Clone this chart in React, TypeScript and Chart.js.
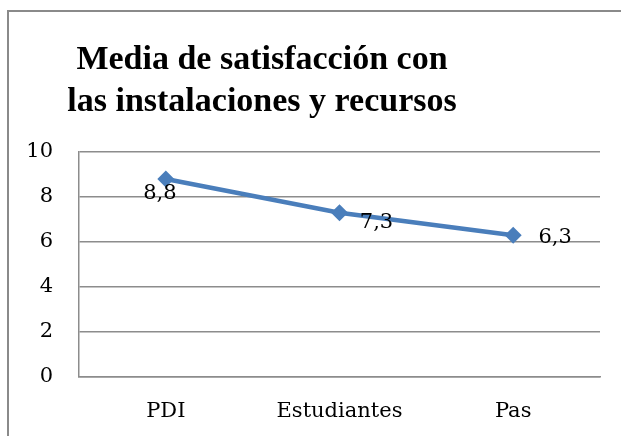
import React, { useEffect, useRef } from "react";
import { Chart, registerables } from "chart.js";

Chart.register(...registerables);

const categories = ["PDI", "Estudiantes", "Pas"];
const values = [8.8, 7.3, 6.3];
const valueLabels = ["8,8", "7,3", "6,3"];
const yTicks = [0, 2, 4, 6, 8, 10];
const titleLines = ["Media de satisfacción con", "las instalaciones y recursos"];

const SERIF = "'DejaVu Serif', 'Liberation Serif', serif";
const LINE_COLOR = "#4A7EBB";
const GRID = "#8C8C8C";

// label placement relative to each point (Excel-like placement)
const labelOffsets = [
  { dx: -6, dy: 15 },
  { dx: 37, dy: 10 },
  { dx: 42, dy: 2 },
];

const dataLabelPlugin = {
  id: "dataLabels",
  afterDatasetsDraw(chart: any) {
    const ctx = chart.ctx;
    const meta = chart.getDatasetMeta(0);
    ctx.save();
    ctx.font = `21px ${SERIF}`;
    ctx.fillStyle = "#000";
    ctx.textAlign = "center";
    ctx.textBaseline = "middle";
    meta.data.forEach((pt: any, i: number) => {
      const o = labelOffsets[i];
      ctx.fillText(valueLabels[i], pt.x + o.dx, pt.y + o.dy);
    });
    ctx.restore();
  },
};

export default function App() {
  const ref = useRef<HTMLCanvasElement>(null);
  useEffect(() => {
    if (!ref.current) return;
    const chart = new Chart(ref.current, {
      type: "line",
      data: {
        labels: categories,
        datasets: [
          {
            data: values,
            borderColor: LINE_COLOR,
            backgroundColor: LINE_COLOR,
            borderWidth: 4.5,
            pointStyle: "rectRot",
            pointRadius: 8.5,
            pointBorderWidth: 0,
            pointBackgroundColor: LINE_COLOR,
            tension: 0,
          },
        ],
      },
      options: {
        animation: false,
        responsive: true,
        maintainAspectRatio: false,
        layout: { padding: { top: 152, left: 0, right: 21, bottom: 0 } },
        plugins: {
          legend: { display: false },
          title: { display: false },
          tooltip: { enabled: false },
        },
        scales: {
          x: {
            offset: true,
            grid: { display: false, drawTicks: false },
            border: { display: true, color: GRID, width: 1.5 },
            ticks: {
              font: { family: SERIF, size: 21 },
              color: "#000",
              padding: 22,
            },
            afterFit(axis: any) {
              axis.height = 59;
            },
          },
          y: {
            min: 0,
            max: 10,
            afterBuildTicks(axis: any) {
              axis.ticks = yTicks.map((v) => ({ value: v }));
            },
            grid: { color: GRID, lineWidth: 1.5, drawTicks: false },
            border: { display: true, color: GRID, width: 1.5 },
            ticks: {
              font: { family: SERIF, size: 21 },
              color: "#000",
              padding: 26,
            },
            afterFit(axis: any) {
              axis.width = 79;
            },
          },
        },
      },
      plugins: [dataLabelPlugin],
    });
    return () => chart.destroy();
  }, []);

  return (
    <div
      style={{
        position: "fixed",
        left: 0,
        top: 0,
        width: 621,
        height: 436,
        background: "#fff",
        overflow: "hidden",
      }}
    >
      <div
        style={{
          position: "absolute",
          left: 7,
          top: 10,
          width: 700,
          height: 500,
          border: "2px solid #8A8A8A",
          boxSizing: "border-box",
        }}
      />
      <div
        style={{
          position: "absolute",
          left: 0,
          top: 0,
          width: 621,
          height: 436,
        }}
      >
        <canvas ref={ref} />
      </div>
      <div
        style={{
          position: "absolute",
          left: 27,
          top: 37,
          width: 470,
          textAlign: "center",
          fontFamily: "'Liberation Serif', serif",
          fontWeight: "bold",
          fontSize: 34,
          lineHeight: "42px",
          color: "#000",
        }}
      >
        {titleLines.map((l, i) => (
          <div key={i} style={{ whiteSpace: "nowrap" }}>
            {l}
          </div>
        ))}
      </div>
    </div>
  );
}
